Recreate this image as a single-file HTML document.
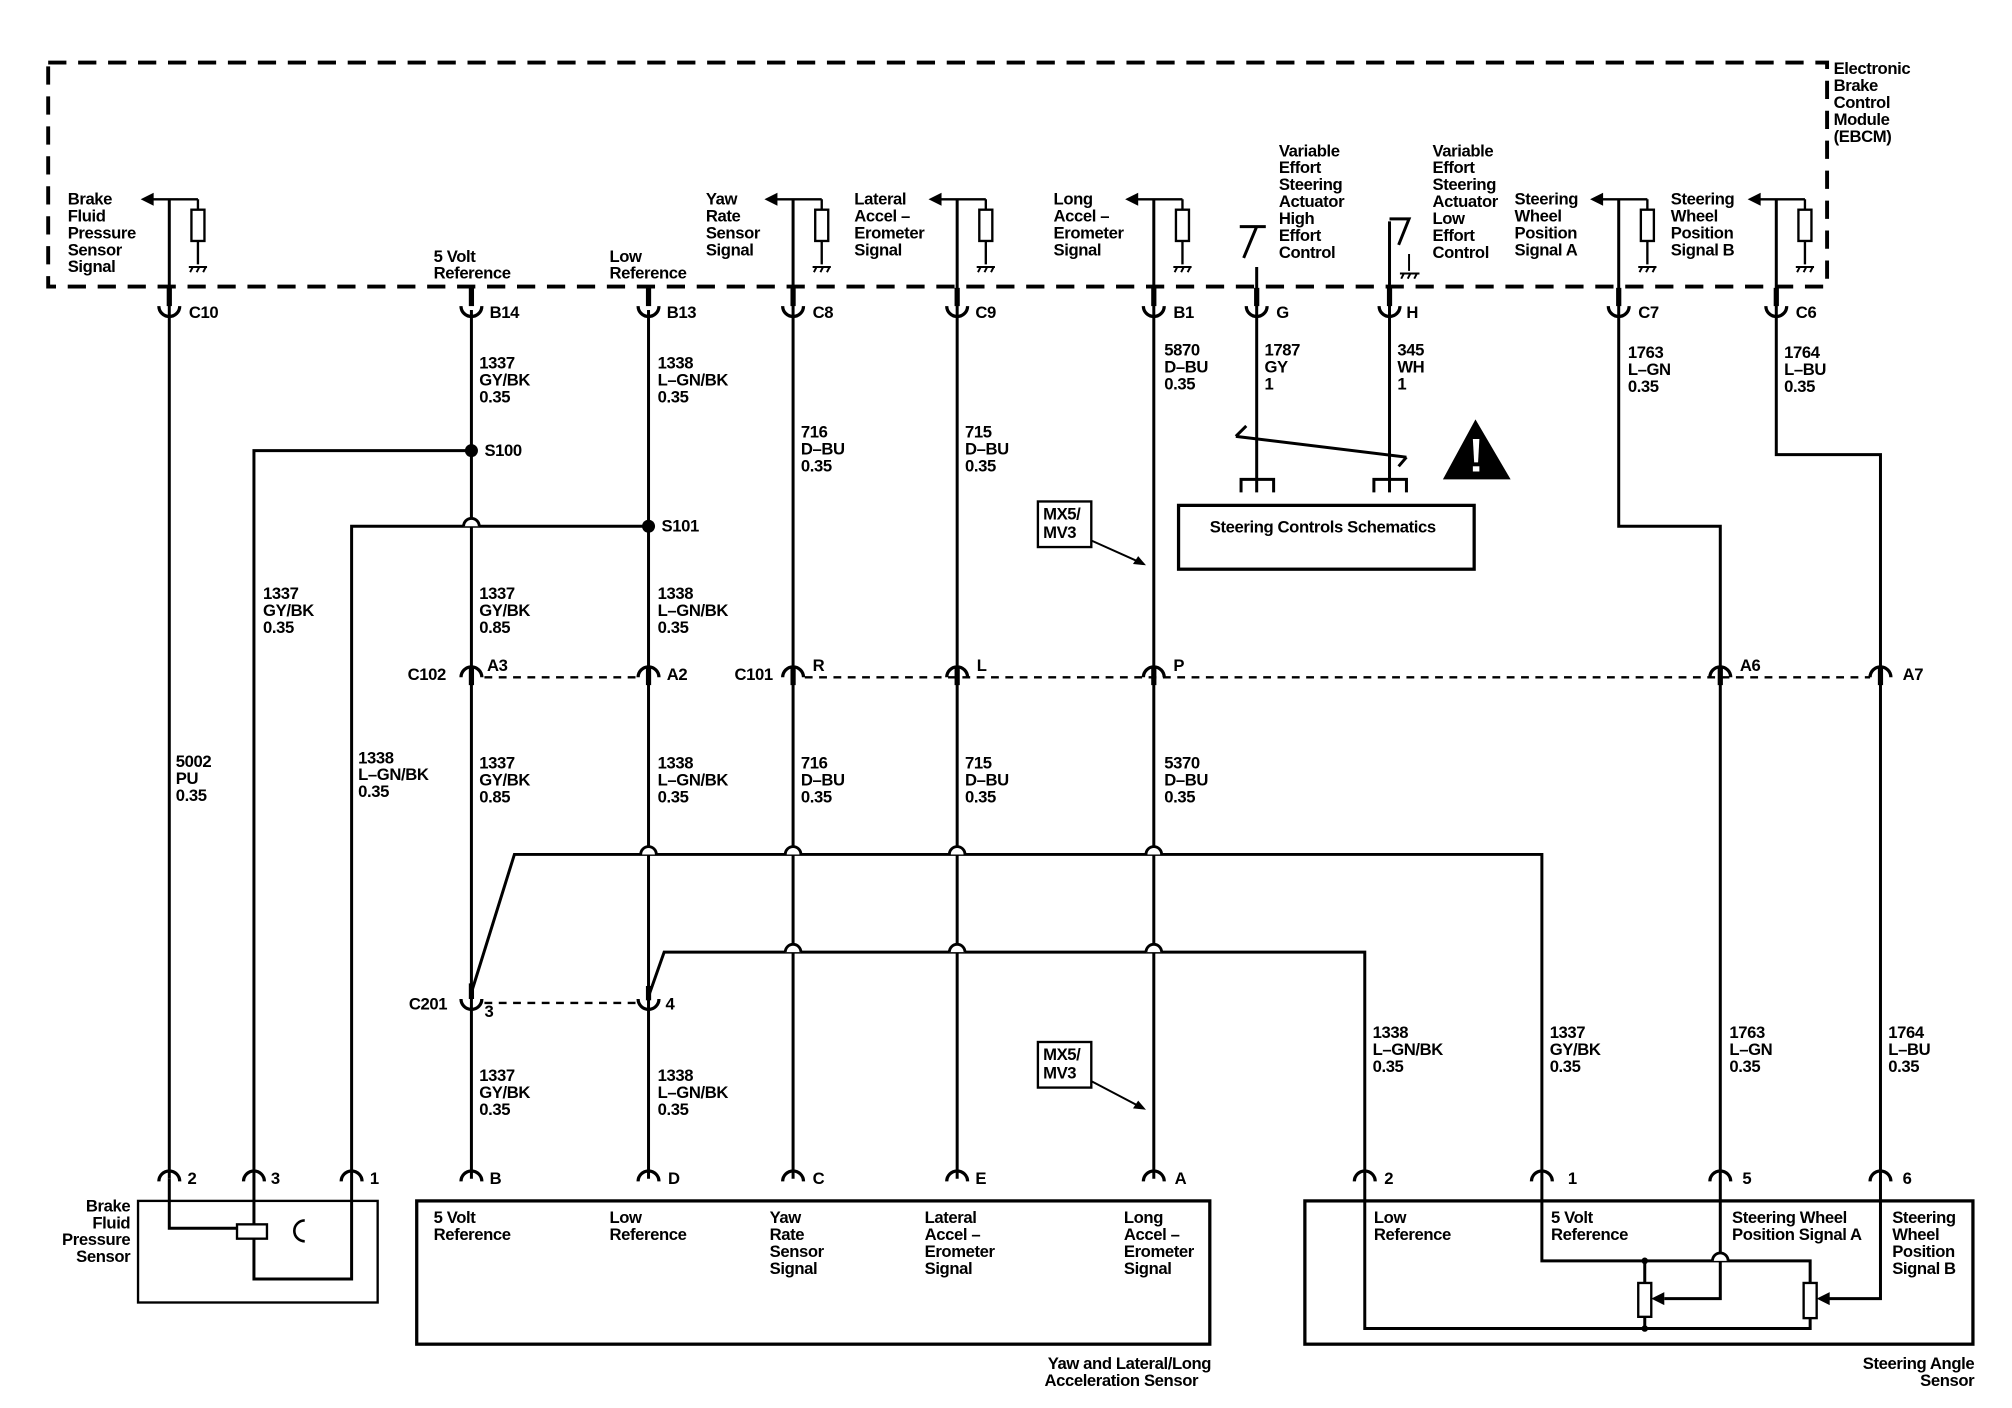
<!DOCTYPE html>
<html><head><meta charset="utf-8"><style>
html,body{margin:0;padding:0;background:#fff;}
svg{display:block;}
text{font-family:"Liberation Sans",sans-serif;font-size:12.8px;font-weight:bold;fill:#000;letter-spacing:-0.3px;}
</style></head><body>
<svg width="2012" height="1408" viewBox="0 0 1545 1081" preserveAspectRatio="none" xmlns="http://www.w3.org/2000/svg">
<defs>
<g id="cup"><rect x="-2" y="-22" width="4" height="14" fill="#000"/><path d="M-8,-8 A8,8 0 0 0 8,-8" fill="none" stroke="#000" stroke-width="2.5"/></g>
<g id="arch"><path d="M-8,8 A8,8 0 0 1 8,8" fill="none" stroke="#000" stroke-width="2.5"/><rect x="-2" y="0" width="4" height="14" fill="#000"/></g>
<g id="archb"><path d="M-8,8 A8,8 0 0 1 8,8" fill="none" stroke="#000" stroke-width="2.5"/></g>
<g id="sig"><path d="M-14,0 H22 M22,0 V8 M22,32 V50" stroke="#000" stroke-width="1.8" fill="none"/><path d="M-22,0 L-12,-5 L-12,5 Z" fill="#000"/><rect x="17" y="8" width="10" height="24" fill="#fff" stroke="#000" stroke-width="1.8"/><path d="M15,52 H29 M16,56 l2,-4 M21,56 l2,-4 M26,56 l2,-4" stroke="#000" stroke-width="1.5"/></g>
<g id="hop"><path d="M-6,0 A6,6 0 0 1 6,0" fill="#fff" stroke="#000" stroke-width="2.2"/></g>
</defs>

<rect x="37" y="48" width="1366" height="172" fill="none" stroke="#000" stroke-width="3" stroke-dasharray="14,9"/>
<text x="1408" y="57">Electronic</text><text x="1408" y="70">Brake</text><text x="1408" y="83">Control</text><text x="1408" y="96">Module</text><text x="1408" y="109">(EBCM)</text>

<g stroke="#000" stroke-width="2.3" fill="none">
<path d="M130,153 V905"/>
<path d="M362,238 V905"/>
<path d="M498,238 V905"/>
<path d="M609,153 V905"/>
<path d="M735,153 V905"/>
<path d="M886,153 V905"/>
<path d="M965,205 V378"/>
<path d="M1067,170 V378"/>
<path d="M1067,168 H1082 L1074,188"/>
<path d="M952,174 H972 M965,174 L955,198"/>
<path d="M1243,153 V404 H1321 V997 H1278"/>
<path d="M1364,153 V349 H1444 V997 H1404"/>
<path d="M362,346 H195 V940"/>
<path d="M195,951 V982 H270 V404 H498"/>
<path d="M362,762 L395,656 H1184 V968 H1390 V985"/>
<path d="M498,765 L510,731 H1048 V1020 H1390 V1012"/>
<path d="M1263,968 V985 M1263,1011 V1020"/>
<path d="M130,905 V943 H182"/>
<path d="M949,335 L1080,351 M949,335 l8,-8 M1080,351 l-6,7"/>
<path d="M953,378 V368 H978 V378 M1055,378 V368 H1080 V378"/>
</g>
<use href="#hop" x="362" y="404"/>
<use href="#hop" x="498" y="656"/><use href="#hop" x="609" y="656"/><use href="#hop" x="735" y="656"/><use href="#hop" x="886" y="656"/>
<use href="#hop" x="609" y="731"/><use href="#hop" x="735" y="731"/><use href="#hop" x="886" y="731"/>
<use href="#hop" x="1321" y="968"/>
<circle cx="362" cy="346" r="5" fill="#000"/><circle cx="498" cy="404" r="5" fill="#000"/>
<circle cx="1263" cy="968" r="2.5" fill="#000"/><circle cx="1263" cy="1020" r="2.5" fill="#000"/>

<use href="#sig" x="130" y="153"/><use href="#sig" x="609" y="153"/><use href="#sig" x="735" y="153"/><use href="#sig" x="886" y="153"/><use href="#sig" x="1243" y="153"/><use href="#sig" x="1364" y="153"/>
<path d="M1082,195 V208 M1075,210 H1090 M1076,214 l2,-4 M1081,214 l2,-4 M1086,214 l2,-4" stroke="#000" stroke-width="1.5"/>

<use href="#cup" x="130" y="243"/><use href="#cup" x="362" y="243"/><use href="#cup" x="498" y="243"/><use href="#cup" x="609" y="243"/><use href="#cup" x="735" y="243"/><use href="#cup" x="886" y="243"/><use href="#cup" x="965" y="243"/><use href="#cup" x="1067" y="243"/><use href="#cup" x="1243" y="243"/><use href="#cup" x="1364" y="243"/>
<text x="145" y="244">C10</text><text x="376" y="244">B14</text><text x="512" y="244">B13</text><text x="624" y="244">C8</text><text x="749" y="244">C9</text><text x="901" y="244">B1</text><text x="980" y="244">G</text><text x="1080" y="244">H</text><text x="1258" y="244">C7</text><text x="1379" y="244">C6</text>

<path d="M372,520 H490 M618,520 H1436" stroke="#000" stroke-width="1.8" stroke-dasharray="6,5"/>
<use href="#arch" x="362" y="512"/><use href="#arch" x="498" y="512"/><use href="#arch" x="609" y="512"/><use href="#arch" x="735" y="512"/><use href="#arch" x="886" y="512"/><use href="#arch" x="1321" y="512"/><use href="#arch" x="1444" y="512"/>
<text x="313" y="522">C102</text><text x="374" y="515">A3</text><text x="512" y="522">A2</text><text x="564" y="522">C101</text><text x="624" y="515">R</text><text x="750" y="515">L</text><text x="901" y="515">P</text><text x="1336" y="515">A6</text><text x="1461" y="522">A7</text>

<path d="M372,770 H490" stroke="#000" stroke-width="1.8" stroke-dasharray="6,5"/>
<rect x="360" y="755" width="4" height="12" fill="#000"/><rect x="496" y="757" width="4" height="11" fill="#000"/>
<path d="M354,767 A8,8 0 0 0 370,767 M490,767 A8,8 0 0 0 506,767" fill="none" stroke="#000" stroke-width="2.5"/>
<text x="314" y="775">C201</text><text x="372" y="781">3</text><text x="511" y="775">4</text>

<use href="#archb" x="130" y="899"/><use href="#archb" x="195" y="899"/><use href="#archb" x="270" y="899"/><use href="#archb" x="362" y="899"/><use href="#archb" x="498" y="899"/><use href="#archb" x="609" y="899"/><use href="#archb" x="735" y="899"/><use href="#archb" x="886" y="899"/><use href="#archb" x="1048" y="899"/><use href="#archb" x="1184" y="899"/><use href="#archb" x="1321" y="899"/><use href="#archb" x="1444" y="899"/>
<text x="144" y="909">2</text><text x="208" y="909">3</text><text x="284" y="909">1</text><text x="376" y="909">B</text><text x="513" y="909">D</text><text x="624" y="909">C</text><text x="749" y="909">E</text><text x="902" y="909">A</text><text x="1063" y="909">2</text><text x="1204" y="909">1</text><text x="1338" y="909">5</text><text x="1461" y="909">6</text>

<g fill="none" stroke="#000" stroke-width="2.5">
<rect x="106" y="922" width="184" height="78" stroke-width="1.8"/>
<rect x="320" y="922" width="609" height="110"/>
<rect x="1002" y="922" width="513" height="110"/>
<rect x="905" y="388" width="227" height="49"/>
</g>
<rect x="182" y="940" width="23" height="11" fill="#fff" stroke="#000" stroke-width="1.8"/>
<path d="M234,937 A8,8 0 0 0 234,953" fill="none" stroke="#000" stroke-width="2"/>
<rect x="1258" y="985" width="10" height="26" fill="#fff" stroke="#000" stroke-width="1.8"/>
<rect x="1385" y="985" width="10" height="27" fill="#fff" stroke="#000" stroke-width="1.8"/>
<path d="M1268,997 l10,-5 v10 Z M1395,997 l10,-5 v10 Z" fill="#000"/>

<path d="M1133,322 L1108,368 H1160 Z" fill="#000"/>
<path d="M1131,337 h5 l-1,18 h-3 Z" fill="#fff"/><rect x="1131" y="358" width="5" height="4" fill="#fff"/>

<rect x="797" y="385" width="41" height="35" fill="none" stroke="#000" stroke-width="1.8"/>
<text x="801" y="399">MX5/</text><text x="801" y="413">MV3</text>
<path d="M838,415 L876,432" stroke="#000" stroke-width="1.5"/><path d="M880,434 l-10,-1 l4,-6 Z" fill="#000"/>
<rect x="797" y="800" width="41" height="35" fill="none" stroke="#000" stroke-width="1.8"/>
<text x="801" y="814">MX5/</text><text x="801" y="828">MV3</text>
<path d="M838,830 L876,850" stroke="#000" stroke-width="1.5"/><path d="M880,852 l-10,-1 l4,-6 Z" fill="#000"/>

<text x="52" y="157">Brake</text><text x="52" y="170">Fluid</text><text x="52" y="183">Pressure</text><text x="52" y="196">Sensor</text><text x="52" y="209">Signal</text>
<text x="333" y="201">5 Volt</text><text x="333" y="214">Reference</text>
<text x="468" y="201">Low</text><text x="468" y="214">Reference</text>
<text x="542" y="157">Yaw</text><text x="542" y="170">Rate</text><text x="542" y="183">Sensor</text><text x="542" y="196">Signal</text>
<text x="656" y="157">Lateral</text><text x="656" y="170">Accel –</text><text x="656" y="183">Erometer</text><text x="656" y="196">Signal</text>
<text x="809" y="157">Long</text><text x="809" y="170">Accel –</text><text x="809" y="183">Erometer</text><text x="809" y="196">Signal</text>
<text x="982" y="120">Variable</text><text x="982" y="133">Effort</text><text x="982" y="146">Steering</text><text x="982" y="159">Actuator</text><text x="982" y="172">High</text><text x="982" y="185">Effort</text><text x="982" y="198">Control</text>
<text x="1100" y="120">Variable</text><text x="1100" y="133">Effort</text><text x="1100" y="146">Steering</text><text x="1100" y="159">Actuator</text><text x="1100" y="172">Low</text><text x="1100" y="185">Effort</text><text x="1100" y="198">Control</text>
<text x="1163" y="157">Steering</text><text x="1163" y="170">Wheel</text><text x="1163" y="183">Position</text><text x="1163" y="196">Signal A</text>
<text x="1283" y="157">Steering</text><text x="1283" y="170">Wheel</text><text x="1283" y="183">Position</text><text x="1283" y="196">Signal B</text>

<text x="368" y="283">1337</text><text x="368" y="296">GY/BK</text><text x="368" y="309">0.35</text>
<text x="505" y="283">1338</text><text x="505" y="296">L–GN/BK</text><text x="505" y="309">0.35</text>
<text x="894" y="273">5870</text><text x="894" y="286">D–BU</text><text x="894" y="299">0.35</text>
<text x="971" y="273">1787</text><text x="971" y="286">GY</text><text x="971" y="299">1</text>
<text x="1073" y="273">345</text><text x="1073" y="286">WH</text><text x="1073" y="299">1</text>
<text x="1250" y="275">1763</text><text x="1250" y="288">L–GN</text><text x="1250" y="301">0.35</text>
<text x="1370" y="275">1764</text><text x="1370" y="288">L–BU</text><text x="1370" y="301">0.35</text>
<text x="615" y="336">716</text><text x="615" y="349">D–BU</text><text x="615" y="362">0.35</text>
<text x="741" y="336">715</text><text x="741" y="349">D–BU</text><text x="741" y="362">0.35</text>
<text x="372" y="350">S100</text><text x="508" y="408">S101</text>
<text x="202" y="460">1337</text><text x="202" y="473">GY/BK</text><text x="202" y="486">0.35</text>
<text x="368" y="460">1337</text><text x="368" y="473">GY/BK</text><text x="368" y="486">0.85</text>
<text x="505" y="460">1338</text><text x="505" y="473">L–GN/BK</text><text x="505" y="486">0.35</text>
<text x="135" y="589">5002</text><text x="135" y="602">PU</text><text x="135" y="615">0.35</text>
<text x="275" y="586">1338</text><text x="275" y="599">L–GN/BK</text><text x="275" y="612">0.35</text>
<text x="368" y="590">1337</text><text x="368" y="603">GY/BK</text><text x="368" y="616">0.85</text>
<text x="505" y="590">1338</text><text x="505" y="603">L–GN/BK</text><text x="505" y="616">0.35</text>
<text x="615" y="590">716</text><text x="615" y="603">D–BU</text><text x="615" y="616">0.35</text>
<text x="741" y="590">715</text><text x="741" y="603">D–BU</text><text x="741" y="616">0.35</text>
<text x="894" y="590">5370</text><text x="894" y="603">D–BU</text><text x="894" y="616">0.35</text>
<text x="1054" y="797">1338</text><text x="1054" y="810">L–GN/BK</text><text x="1054" y="823">0.35</text>
<text x="1190" y="797">1337</text><text x="1190" y="810">GY/BK</text><text x="1190" y="823">0.35</text>
<text x="1328" y="797">1763</text><text x="1328" y="810">L–GN</text><text x="1328" y="823">0.35</text>
<text x="1450" y="797">1764</text><text x="1450" y="810">L–BU</text><text x="1450" y="823">0.35</text>
<text x="368" y="830">1337</text><text x="368" y="843">GY/BK</text><text x="368" y="856">0.35</text>
<text x="505" y="830">1338</text><text x="505" y="843">L–GN/BK</text><text x="505" y="856">0.35</text>

<text x="929" y="409">Steering Controls Schematics</text>

<text x="100" y="930" text-anchor="end">Brake</text><text x="100" y="943" text-anchor="end">Fluid</text><text x="100" y="956" text-anchor="end">Pressure</text><text x="100" y="969" text-anchor="end">Sensor</text>
<text x="333" y="939">5 Volt</text><text x="333" y="952">Reference</text>
<text x="468" y="939">Low</text><text x="468" y="952">Reference</text>
<text x="591" y="939">Yaw</text><text x="591" y="952">Rate</text><text x="591" y="965">Sensor</text><text x="591" y="978">Signal</text>
<text x="710" y="939">Lateral</text><text x="710" y="952">Accel –</text><text x="710" y="965">Erometer</text><text x="710" y="978">Signal</text>
<text x="863" y="939">Long</text><text x="863" y="952">Accel –</text><text x="863" y="965">Erometer</text><text x="863" y="978">Signal</text>
<text x="1055" y="939">Low</text><text x="1055" y="952">Reference</text>
<text x="1191" y="939">5 Volt</text><text x="1191" y="952">Reference</text>
<text x="1330" y="939">Steering Wheel</text><text x="1330" y="952">Position Signal A</text>
<text x="1453" y="939">Steering</text><text x="1453" y="952">Wheel</text><text x="1453" y="965">Position</text><text x="1453" y="978">Signal B</text>
<text x="930" y="1051" text-anchor="end">Yaw and Lateral/Long</text><text x="920" y="1064" text-anchor="end">Acceleration Sensor</text>
<text x="1516" y="1051" text-anchor="end">Steering Angle</text><text x="1516" y="1064" text-anchor="end">Sensor</text>
</svg>
</body></html>
